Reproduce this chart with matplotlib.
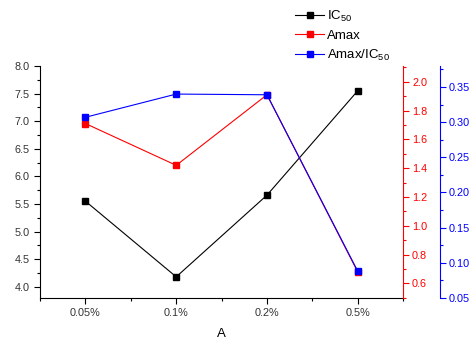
import matplotlib
matplotlib.use('Agg')
import matplotlib.pyplot as plt
from matplotlib.ticker import MultipleLocator
import numpy as np

plt.rcParams['font.family'] = ['Liberation Sans', 'DejaVu Sans']

# data
categories = ['0.05%', '0.1%', '0.2%', '0.5%']
ic50 = [5.55, 4.18, 5.66, 7.55]
amax = [1.71, 1.42, 1.91, 0.68]
amax_ic50 = [0.307, 0.340, 0.339, 0.088]

x = np.arange(len(categories))

fig = plt.figure(figsize=(4.72, 3.4), dpi=100)
ax = fig.add_axes([0.085, 0.124, 0.769, 0.682])
ax2 = ax.twinx()
ax3 = ax.twinx()

l1, = ax.plot(x, ic50, color='black', linewidth=0.8, marker='s', markersize=4.8, label='IC$_{\\mathregular{50}}$')
l2, = ax2.plot(x, amax, color='red', linewidth=0.8, marker='s', markersize=4.8, label='Amax')
l3, = ax3.plot(x, amax_ic50, color='blue', linewidth=0.8, marker='s', markersize=4.8, label='Amax/IC$_{\\mathregular{50}}$')

ax.set_xlim(-0.5, 3.5)
ax.set_ylim(3.8, 8.0)
ax2.set_ylim(0.5, 2.11)
ax3.set_ylim(0.05, 0.38)

ax.set_xticks(x)
ax.set_xticklabels(categories)
ax.xaxis.set_minor_locator(MultipleLocator(0.5))
ax.yaxis.set_major_locator(MultipleLocator(0.5))
ax.yaxis.set_minor_locator(MultipleLocator(0.25))
ax2.yaxis.set_major_locator(MultipleLocator(0.2))
ax2.yaxis.set_minor_locator(MultipleLocator(0.1))
ax3.yaxis.set_major_locator(MultipleLocator(0.05))
ax3.yaxis.set_minor_locator(MultipleLocator(0.025))

ax.set_xlabel('A', fontsize=9.5, labelpad=7)

for a in (ax, ax2, ax3):
    a.spines['top'].set_visible(False)
ax.spines['right'].set_visible(False)
ax2.spines['left'].set_visible(False)
ax3.spines['left'].set_visible(False)
ax3.spines['bottom'].set_visible(False)
ax2.spines['bottom'].set_visible(False)
ax3.spines['right'].set_position(('outward', 26.6))

ax2.spines['right'].set_color('red')
ax3.spines['right'].set_color('blue')
ax.spines['left'].set_linewidth(0.8)
ax.spines['bottom'].set_linewidth(0.8)
ax2.spines['right'].set_linewidth(0.8)
ax3.spines['right'].set_linewidth(0.8)

ax.tick_params(axis='both', which='major', labelsize=7.8, length=4, width=0.8, colors='black', labelcolor='#333333')
ax.tick_params(axis='both', which='minor', length=2, width=0.8)
ax2.tick_params(axis='y', which='major', labelsize=7.8, length=4, width=0.8, colors='red', pad=2.5)
ax2.tick_params(axis='y', which='minor', length=2, width=0.8, colors='red')
ax3.tick_params(axis='y', which='major', labelsize=7.8, length=4, width=0.8, colors='blue', pad=2.5)
ax3.tick_params(axis='y', which='minor', length=2, width=0.8, colors='blue')

fig.legend(handles=[l1, l2, l3], loc='upper left', bbox_to_anchor=(0.6, 1.01),
           frameon=False, fontsize=9.5, handlelength=2.2, handletextpad=0.25,
           labelspacing=0.45)

plt.savefig('out.png', dpi=100)
